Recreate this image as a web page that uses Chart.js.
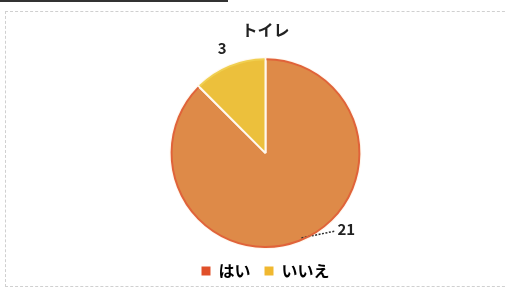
<!DOCTYPE html>
<html>
<head>
<meta charset="utf-8">
<script src="https://cdn.jsdelivr.net/npm/chart.js@4/dist/chart.umd.min.js"></script>
<style>
  html, body { margin: 0; padding: 0; background: #fff; }
  #wrap { position: relative; width: 505px; height: 293px; overflow: hidden; }
  #frame { position: absolute; left: 5px; top: 11px; width: 520px; height: 276px;
           border: 1px dashed #d0d0d0; box-sizing: border-box; }
  #tab { position: absolute; left: 0; top: 0; width: 228px; height: 2px; background: #333; }
  canvas { position: absolute; left: 0; top: 0; }
</style>
</head>
<body>
<div id="wrap">
  <div id="tab"></div>
  <div id="frame"></div>
  <canvas id="toilet" width="505" height="293"></canvas>
</div>
<script>
var labels = ["はい", "いいえ"],
    counts = [21, 3],
    title = "トイレ";

var fillColors = ["#de8a48", "#ecc03c"],
    edgeColors = ["#e0633a", "#f0cf50"],
    legendColors = ["#e0502a", "#f0b830"];

// value labels outside the slices, the big one with a dashed leader line
var valueLabels = {
    id: "valueLabels",
    afterDatasetsDraw: function (chart) {
        var ctx = chart.ctx,
            meta = chart.getDatasetMeta(0);
        ctx.save();
        ctx.font = "bold 15px 'Noto Sans CJK JP', sans-serif";
        ctx.fillStyle = "#222";
        ctx.textBaseline = "middle";
        meta.data.forEach(function (arc, i) {
            var mid = (arc.startAngle + arc.endAngle) / 2,
                r = arc.outerRadius,
                cx = Math.cos(mid), cy = Math.sin(mid),
                txt = String(counts[i]);
            if (i === 0) {
                var x0 = arc.x + cx * (r - 1), y0 = arc.y + cy * (r - 3),
                    x1 = x0 + 34, y1 = y0 - 7;
                ctx.setLineDash([2, 1.5]);
                ctx.strokeStyle = "#333";
                ctx.lineWidth = 1.5;
                ctx.beginPath();
                ctx.moveTo(x0, y0);
                ctx.lineTo(x1, y1);
                ctx.stroke();
                ctx.setLineDash([]);
                ctx.textAlign = "left";
                ctx.fillText(txt, x1 + 2, y1 - 2);
            } else {
                ctx.textAlign = "center";
                ctx.fillText(txt, arc.x + cx * (r + 18), arc.y + cy * (r + 18));
            }
        });
        ctx.restore();
    }
};

window.onload = function () {
    var ctx = document.getElementById("toilet");
    new Chart(ctx, {
        type: "pie",
        data: {
            labels: labels,
            datasets: [{
                data: counts,
                backgroundColor: fillColors,
                borderColor: ["#fff8ee", "#fff8ee"],
                borderWidth: 2
            }]
        },
        options: {
            responsive: false,
            animation: false,
            layout: { padding: { left: 26, right: 0, top: 0, bottom: 4 } },
            plugins: {
                title: {
                    display: true,
                    text: title,
                    color: "#222",
                    font: { family: "'Noto Sans CJK JP', sans-serif", size: 16, weight: "bold" },
                    padding: { top: 20, bottom: 18 }
                },
                legend: {
                    position: "bottom",
                    labels: {
                        color: "#222",
                        boxWidth: 9,
                        boxHeight: 9,
                        padding: 14,
                        font: { family: "'Noto Sans CJK JP', sans-serif", size: 16, weight: "bold" },
                        generateLabels: function (chart) {
                            return labels.map(function (l, i) {
                                return { text: l, fillStyle: legendColors[i], strokeStyle: legendColors[i],
                                         lineWidth: 0, index: i, hidden: false };
                            });
                        }
                    }
                },
                tooltip: { enabled: false }
            }
        },
        plugins: [valueLabels, {
            id: "edges",
            afterDatasetsDraw: function (chart) {
                // reddish rim along the outer edge, as in the scan
                var c = chart.ctx, meta = chart.getDatasetMeta(0);
                c.save();
                meta.data.forEach(function (arc, i) {
                    c.strokeStyle = edgeColors[i];
                    c.lineWidth = 2;
                    c.beginPath();
                    c.arc(arc.x, arc.y, arc.outerRadius - 1, arc.startAngle + 0.01, arc.endAngle - 0.01);
                    c.stroke();
                });
                c.restore();
            }
        }]
    });
};
</script>
</body>
</html>
